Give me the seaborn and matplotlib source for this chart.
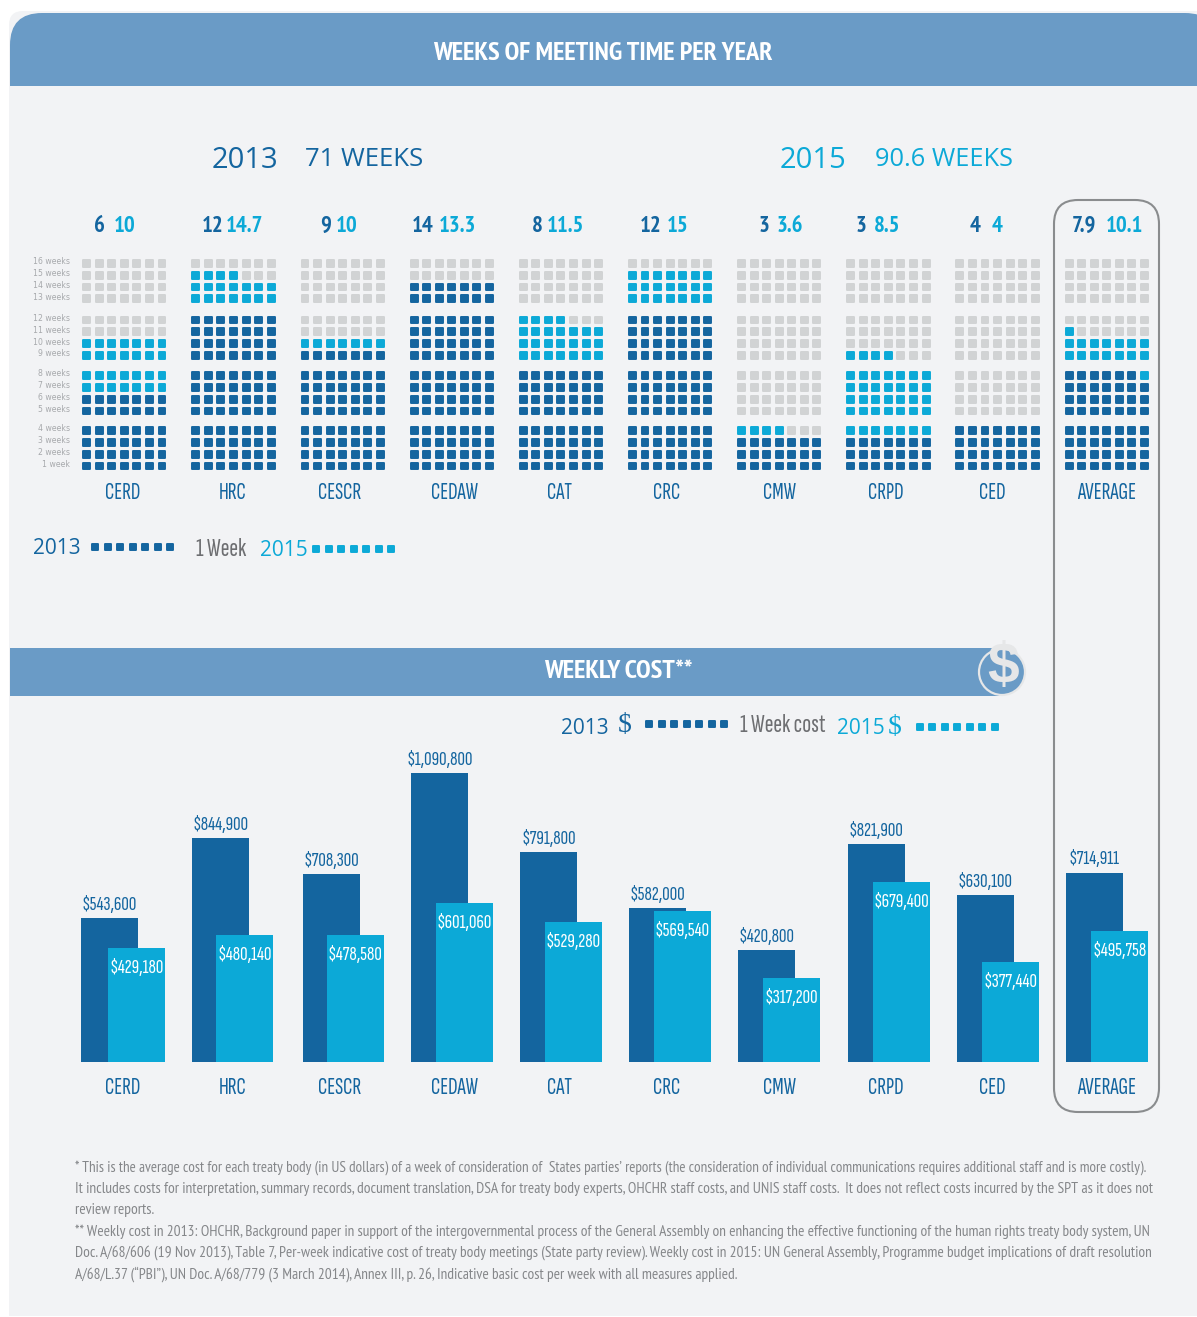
import numpy as np
import pandas as pd
import matplotlib
matplotlib.use("Agg")
import matplotlib.pyplot as plt
import seaborn as sns
from matplotlib.patches import FancyBboxPatch, Rectangle, Circle
from matplotlib.transforms import ScaledTranslation

# Data
bodies = ["CERD", "HRC", "CESCR", "CEDAW", "CAT", "CRC", "CMW", "CRPD", "CED", "AVERAGE"]
weeks_2013 = ["6", "12", "9", "14", "8", "12", "3", "3", "4", "7.9"]
weeks_2015 = ["10", "14.7", "10", "13.3", "11.5", "15", "3.6", "8.5", "4", "10.1"]
dots_2013 = [42, 84, 63, 98, 56, 84, 21, 21, 28, 55]
dots_2015 = [70, 102, 70, 93, 81, 105, 25, 60, 28, 71]
cost_2013 = [543600, 844900, 708300, 1090800, 791800, 582000, 420800, 821900, 630100, 714911]
cost_2015 = [429180, 480140, 478580, 601060, 529280, 569540, 317200, 679400, 377440, 495758]
week_labels = ["1 week"] + [f"{n} weeks" for n in range(2, 17)]

footnotes = [
    "* This is the average cost for each treaty body (in US dollars) of a week of consideration of  States parties\u2019 reports (the consideration of individual communications requires additional staff and is more costly).",
    "It includes costs for interpretation, summary records, document translation, DSA for treaty body experts, OHCHR staff costs, and UNIS staff costs.  It does not reflect costs incurred by the SPT as it does not",
    "review reports.",
    "** Weekly cost in 2013: OHCHR, Background paper in support of the intergovernmental process of the General Assembly on enhancing the effective functioning of the human rights treaty body system, UN",
    "Doc. A/68/606 (19 Nov 2013), Table 7, Per-week indicative cost of treaty body meetings (State party review). Weekly cost in 2015: UN General Assembly, Programme budget implications of draft resolution",
    "A/68/L.37 (\u201cPBI\u201d), UN Doc. A/68/779 (3 March 2014), Annex III, p. 26, Indicative basic cost per week with all measures applied.",
]

# Colours
DARK = "#14659f"
LIGHT = "#0ca9d7"
GREY = "#d1d3d4"
HEADER = "#6a9bc6"
PANEL = "#f2f3f5"
NOTE = "#85878a"

# Layout, in figure pixels
W, H = 1197, 1317
label_x = [123, 233, 340, 454, 560, 667, 780, 886, 992, 1107]
pair_x_2013 = [99, 213, 326, 423, 537, 651, 764, 861, 975, 1084]
pair_x_2015 = [125, 245, 347, 457, 565, 678, 790, 887, 997, 1124]
bar_x_2013 = [109.5, 220.5, 331.5, 439.5, 548.5, 657.5, 766.5, 876.5, 985.5, 1094.5]
bar_x_2015 = [136.5, 244.5, 355.5, 464.5, 573.5, 682.5, 791.5, 901.5, 1010.5, 1119.5]
note_sizes = [10.9, 11.13, 11.13, 11.1, 11.08, 11.1]
BAR_W = 57
DOT_PITCH = 12.55
GROUP_PITCH = 109.15
ROW_PITCH = 11.9
X0, Y0 = 86.7, 466
block_gap = [0, 0.62, 0.65, 0.77]
PX_PER_DOLLAR = 0.000265

sns.set_theme(style="white")
NARROW = ["PT Sans Narrow", "Liberation Sans", "DejaVu Sans"]
TIGHT = ["Sofia Sans Extra Condensed", "PT Sans Narrow", "Liberation Sans", "DejaVu Sans"]
plt.rcParams["font.family"] = NARROW

fig = plt.figure(figsize=(W / 100, H / 100), dpi=100, facecolor="white")


def px_axes(left, top, right, bottom):
    return fig.add_axes([left / W, 1 - bottom / H, (right - left) / W, (bottom - top) / H], facecolor="none")


# Page furniture in pixel coordinates
bg = fig.add_axes([0, 0, 1, 1])
bg.set_xlim(0, W)
bg.set_ylim(H, 0)
bg.axis("off")

bg.add_patch(FancyBboxPatch((9, 11), W + 40, 100, boxstyle="round,pad=0,rounding_size=14", fc=PANEL, ec="none"))
bg.add_patch(Rectangle((9, 60), W, 1256, fc=PANEL, ec="none"))
head = FancyBboxPatch((10, 13), W + 10, 150, boxstyle="round,pad=0,rounding_size=32", fc=HEADER, ec="none")
bg.add_patch(head)
head.set_clip_path(Rectangle((0, 0), W, 85.5, transform=bg.transData))
bg.add_patch(Rectangle((10, 648), 990, 48, fc=HEADER, ec="none"))
bg.add_patch(Circle((1002, 672), 23, fc=HEADER, ec="#e6e7e8", lw=1.6))
bg.add_patch(FancyBboxPatch((1054, 200), 105, 912, boxstyle="round,pad=0,rounding_size=24", fc="none", ec="#8a8c8e", lw=1.5))
bg.text(1003, 668, "$", color="#e6e7e8", fontsize=41, fontweight="bold", ha="center", va="center", family="Liberation Sans")

bg.text(603, 54, "WEEKS OF MEETING TIME PER YEAR", color="white", fontsize=19, fontweight="bold", ha="center", va="center")
bg.text(618, 672, "WEEKLY COST**", color="white", fontsize=19, fontweight="bold", ha="center", va="center")

for x, txt, col, size in [(245, "2013", DARK, 21), (364, "71 WEEKS", DARK, 18.5), (813, "2015", LIGHT, 21), (944, "90.6 WEEKS", LIGHT, 18.3)]:
    bg.text(x, 160, txt, color=col, fontsize=size, ha="center", va="center", family="Open Sans")

for x13, x15, a, b in zip(pair_x_2013, pair_x_2015, weeks_2013, weeks_2015):
    bg.text(x13, 226, a, color=DARK, fontsize=16.5, fontweight="bold", ha="center", va="center")
    bg.text(x15, 226, b, color=LIGHT, fontsize=16.5, fontweight="bold", ha="center", va="center")

# Legends
bg.text(57, 548, "2013", color=DARK, fontsize=15, ha="center", va="center", family="Open Sans")
bg.text(221, 549, "1 Week", color="#6d6e71", fontsize=19, ha="center", va="center", family=TIGHT)
bg.text(284, 550, "2015", color=LIGHT, fontsize=15, ha="center", va="center", family="Open Sans")
bg.text(585, 728, "2013", color=DARK, fontsize=15, ha="center", va="center", family="Open Sans")
bg.text(625, 726, "$", color=DARK, fontsize=20, ha="center", va="center", family="Liberation Serif")
bg.text(783, 725, "1 Week cost", color="#6d6e71", fontsize=19, ha="center", va="center", family=TIGHT)
bg.text(861, 729, "2015", color=LIGHT, fontsize=15, ha="center", va="center", family="Open Sans")
bg.text(895, 728, "$", color=LIGHT, fontsize=20, ha="center", va="center", family="Liberation Serif")

dot_style = dict(marker="s", s=25, linewidth=1.4, edgecolor="face", joinstyle="round", legend=False)
for x0, y0, col in [(95, 546.7, DARK), (316, 549, LIGHT), (649, 724, DARK), (919.5, 726.7, LIGHT)]:
    sns.scatterplot(x=x0 + np.arange(7) * DOT_PITCH, y=np.full(7, y0), color=col, ax=bg, **dot_style)
bg.set_xlim(0, W)
bg.set_ylim(H, 0)

for i, (line, size) in enumerate(zip(footnotes, note_sizes)):
    bg.text(75, 1168 + i * 21.2, line, color=NOTE, fontsize=size, ha="left", va="center")


# Waffle grid: one row of seven dots per week
def row_pos(week):
    block = (week - 1) // 4
    return (week - 1) + sum(block_gap[: block + 1])


rows = []
for g, (d13, d15) in enumerate(zip(dots_2013, dots_2015)):
    for n in range(16 * 7):
        state = "2013" if n < d13 else ("2015" if n < d15 else "empty")
        rows.append({"x": g + (n % 7) * DOT_PITCH / GROUP_PITCH, "y": row_pos(n // 7 + 1), "state": state})
waffle = pd.DataFrame(rows)

ax_w = px_axes(73, 250, W, 478)
sns.scatterplot(data=waffle, x="x", y="y", hue="state",
                palette={"2013": DARK, "2015": LIGHT, "empty": GREY}, ax=ax_w, **dot_style)
ax_w.set_xlim((73 - X0) / GROUP_PITCH, (W - X0) / GROUP_PITCH)
ax_w.set_ylim((Y0 - 478) / ROW_PITCH, (Y0 - 250) / ROW_PITCH)
ax_w.set_xticks([(x - X0) / GROUP_PITCH for x in label_x], bodies, color=DARK, fontsize=17, family=TIGHT)
ax_w.set_yticks([row_pos(w) for w in range(1, 17)], week_labels, color="#a7a9ac", fontsize=5.6, family="DejaVu Sans")
ax_w.tick_params(length=0, axis="x", pad=3)
ax_w.tick_params(length=0, axis="y", pad=2)
ax_w.set_xlabel("")
ax_w.set_ylabel("")
lift = ScaledTranslation(0, 2.7 / 100, fig.dpi_scale_trans)
for lbl in ax_w.get_yticklabels():
    lbl.set_transform(lbl.get_transform() + lift)
sns.despine(ax=ax_w, left=True, bottom=True)

# Weekly cost bars, 2015 drawn over 2013
ax_b = px_axes(0, 740, W, 1062)
bar_df_13 = pd.DataFrame({"x": bar_x_2013, "cost": cost_2013})
bar_df_15 = pd.DataFrame({"x": bar_x_2015, "cost": cost_2015})
sns.barplot(data=bar_df_13, x="x", y="cost", native_scale=True, color=DARK, saturation=1, linewidth=0,
            width=BAR_W / np.diff(bar_x_2013).min(), errorbar=None, ax=ax_b)
sns.barplot(data=bar_df_15, x="x", y="cost", native_scale=True, color=LIGHT, saturation=1, linewidth=0,
            width=BAR_W / np.diff(bar_x_2015).min(), errorbar=None, ax=ax_b)
ax_b.set_xlim(0, W)
ax_b.set_ylim(0, (1062 - 740) / PX_PER_DOLLAR)
ax_b.set_xticks(label_x, bodies, color=DARK, fontsize=17, family=TIGHT)
ax_b.set_yticks([])
ax_b.tick_params(length=0, axis="x", pad=11)
ax_b.set_xlabel("")
ax_b.set_ylabel("")
sns.despine(ax=ax_b, left=True, bottom=True)

ax_b.bar_label(ax_b.containers[0], labels=[f"${v:,}" for v in cost_2013], color=DARK, fontsize=15, padding=3, family=TIGHT)
ax_b.bar_label(ax_b.containers[1], labels=[f"${v:,}" for v in cost_2015], color="white", fontsize=15, padding=-21, family=TIGHT)

fig.savefig("out.png", dpi=100, facecolor="white")
